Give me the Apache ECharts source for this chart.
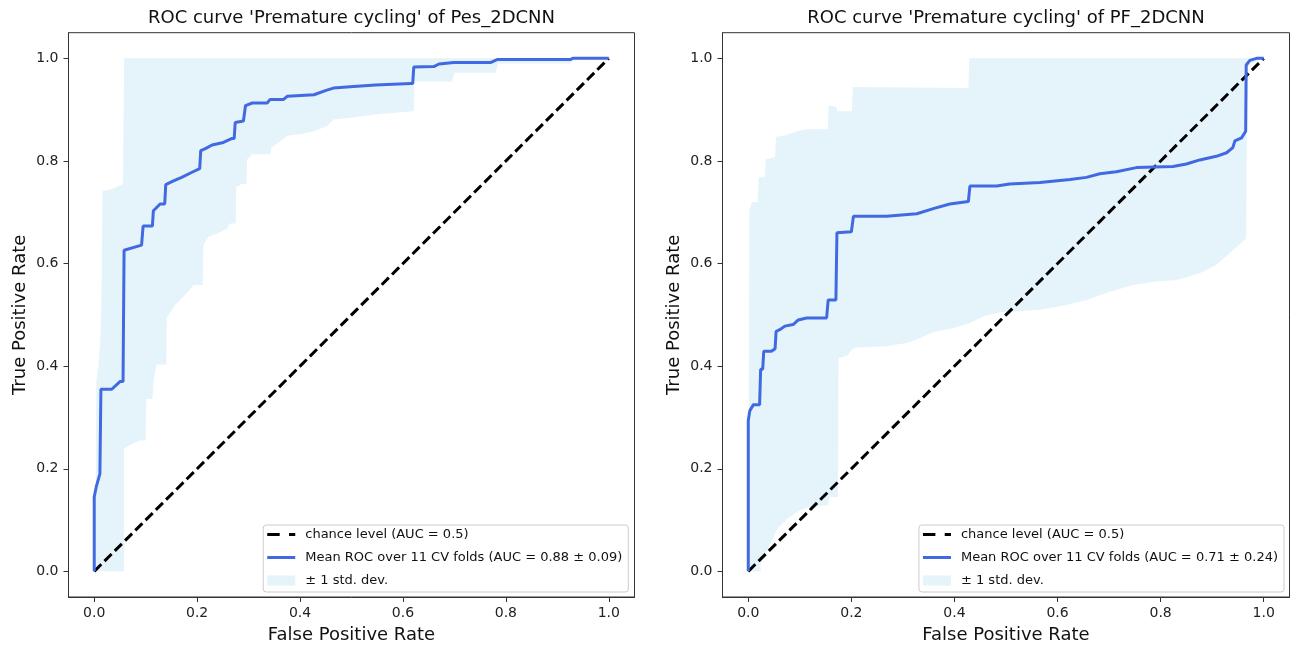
<!DOCTYPE html>
<html>
<head>
<meta charset="utf-8">
<title>ROC curves</title>
<script src="https://cdn.jsdelivr.net/npm/echarts@6/dist/echarts.min.js"></script>
<style>
  html, body { margin: 0; padding: 0; background: #fff; }
  #main { width: 1290px; height: 649px; }
</style>
</head>
<body>
<div id="main"></div>
<script>
// tick labels on both axes
var tickValues = [0, 0.2, 0.4, 0.6, 0.8, 1.0];

var titles = [
  "ROC curve 'Premature cycling' of Pes_2DCNN",
  "ROC curve 'Premature cycling' of PF_2DCNN"
];
var chanceName = 'chance level (AUC = 0.5)';
var meanNames = [
  'Mean ROC over 11 CV folds (AUC = 0.88 ± 0.09)',
  'Mean ROC over 11 CV folds (AUC = 0.71 ± 0.24)'
];
var bandName = '± 1 std. dev.';

var chanceLine = [[0, 0], [1, 1]];

// Pes_2DCNN : mean ROC [fpr, tpr]
var pesMean = [
  [0, 0], [0, 0.145], [0.004, 0.165], [0.011, 0.19], [0.013, 0.355], [0.034, 0.355],
  [0.05, 0.37], [0.056, 0.37], [0.058, 0.626], [0.092, 0.636], [0.095, 0.673],
  [0.113, 0.673], [0.115, 0.703], [0.128, 0.716], [0.137, 0.716], [0.139, 0.754],
  [0.154, 0.761], [0.17, 0.768], [0.19, 0.778], [0.205, 0.785], [0.207, 0.82],
  [0.216, 0.824], [0.229, 0.831], [0.251, 0.836], [0.268, 0.844], [0.272, 0.844],
  [0.274, 0.875], [0.29, 0.878], [0.292, 0.878], [0.294, 0.908], [0.307, 0.913],
  [0.336, 0.913], [0.342, 0.92], [0.368, 0.92], [0.375, 0.926], [0.427, 0.929],
  [0.452, 0.938], [0.465, 0.942], [0.504, 0.945], [0.547, 0.948], [0.615, 0.951],
  [0.619, 0.951], [0.621, 0.983], [0.66, 0.984], [0.67, 0.989], [0.699, 0.992],
  [0.771, 0.992], [0.784, 0.998], [0.926, 0.998], [0.93, 1.0], [1.0, 1.0]
];
// Pes_2DCNN : mean + std (clipped at 1)
var pesUpper = [
  [0, 0], [0, 0.15], [0.003, 0.17], [0.004, 0.37], [0.008, 0.4], [0.012, 0.45],
  [0.014, 0.53], [0.016, 0.742], [0.031, 0.744], [0.056, 0.755], [0.058, 1.0], [1.0, 1.0]
];
// Pes_2DCNN : mean - std
var pesLower = [
  [0, 0], [0.058, 0], [0.058, 0.239], [0.073, 0.248], [0.089, 0.255], [0.1, 0.255],
  [0.101, 0.336], [0.113, 0.336], [0.115, 0.368], [0.121, 0.403], [0.14, 0.403],
  [0.141, 0.494], [0.157, 0.519], [0.177, 0.539], [0.193, 0.558], [0.211, 0.558],
  [0.212, 0.636], [0.222, 0.652], [0.238, 0.658], [0.258, 0.668], [0.264, 0.678],
  [0.275, 0.678], [0.276, 0.749], [0.287, 0.755], [0.296, 0.755], [0.297, 0.803],
  [0.307, 0.813], [0.342, 0.813], [0.345, 0.826], [0.375, 0.849], [0.401, 0.852],
  [0.427, 0.858], [0.453, 0.868], [0.465, 0.881], [0.498, 0.884], [0.55, 0.891],
  [0.618, 0.897], [0.621, 0.897], [0.622, 0.955], [0.696, 0.955], [0.7, 0.972],
  [0.78, 0.972], [0.785, 0.99], [0.926, 0.99], [0.93, 1.0], [1.0, 1.0]
];

// PF_2DCNN : mean ROC
var pfMean = [
  [0, 0], [0, 0.294], [0.003, 0.313], [0.01, 0.325], [0.022, 0.325], [0.024, 0.394],
  [0.028, 0.394], [0.03, 0.429], [0.045, 0.429], [0.052, 0.434], [0.054, 0.468],
  [0.061, 0.471], [0.071, 0.478], [0.087, 0.481], [0.097, 0.49], [0.113, 0.494],
  [0.152, 0.494], [0.155, 0.529], [0.17, 0.529], [0.172, 0.66], [0.2, 0.662],
  [0.204, 0.692], [0.268, 0.692], [0.327, 0.697], [0.359, 0.707], [0.391, 0.716],
  [0.427, 0.721], [0.43, 0.751], [0.482, 0.751], [0.507, 0.755], [0.566, 0.758],
  [0.624, 0.764], [0.656, 0.768], [0.682, 0.775], [0.714, 0.779], [0.753, 0.787],
  [0.824, 0.789], [0.85, 0.794], [0.876, 0.802], [0.908, 0.809], [0.928, 0.816],
  [0.94, 0.826], [0.944, 0.839], [0.957, 0.845], [0.965, 0.858], [0.966, 0.987],
  [0.973, 0.996], [0.986, 1.0], [1.0, 1.0]
];
var pfUpper = [
  [0, 0], [0.002, 0.703], [0.007, 0.72], [0.018, 0.72], [0.02, 0.768], [0.032, 0.768],
  [0.034, 0.803], [0.052, 0.807], [0.054, 0.847], [0.074, 0.85], [0.094, 0.858],
  [0.113, 0.862], [0.154, 0.862], [0.156, 0.908], [0.171, 0.905], [0.173, 0.897],
  [0.201, 0.897], [0.203, 0.944], [0.427, 0.942], [0.429, 1.0], [1.0, 1.0]
];
var pfLower = [
  [0, 0], [0.024, 0], [0.024, 0.016], [0.032, 0.029], [0.055, 0.081], [0.074, 0.101],
  [0.1, 0.119], [0.12, 0.126], [0.155, 0.129], [0.158, 0.145], [0.174, 0.145],
  [0.175, 0.416], [0.191, 0.42], [0.205, 0.436], [0.268, 0.439], [0.307, 0.445],
  [0.327, 0.452], [0.359, 0.466], [0.397, 0.474], [0.43, 0.484], [0.456, 0.497],
  [0.488, 0.505], [0.566, 0.51], [0.617, 0.519], [0.656, 0.529], [0.701, 0.545],
  [0.747, 0.558], [0.792, 0.565], [0.831, 0.568], [0.876, 0.581], [0.908, 0.597],
  [0.94, 0.626], [0.966, 0.649], [0.968, 0.98], [0.975, 0.99], [1.0, 1.0]
];

var FONT = 'DejaVu Sans';
var BLUE = '#4169E1';
var BAND = 'rgba(135,206,235,0.22)';
var SPINE = '#333';

// plot boxes (x: -0.05..1.05, y: -0.05..1.05)
var grids = [
  { left: 68.5, top: 32.7, width: 566, height: 568 },
  { left: 722.5, top: 32.7, width: 567, height: 568 }
];

function xAxisOf(i) {
  return {
    type: 'value', gridIndex: i, min: -0.05, max: 1.05,
    name: 'False Positive Rate', nameLocation: 'middle', nameGap: 29,
    nameTextStyle: { fontFamily: FONT, fontSize: 18, color: '#111' },
    splitLine: { show: false },
    axisLine: { show: true, onZero: false, lineStyle: { color: SPINE, width: 1 } },
    axisTick: { show: true, length: 5, customValues: tickValues, lineStyle: { color: SPINE } },
    axisLabel: {
      margin: 9, fontFamily: FONT, fontSize: 14, color: '#222',
      customValues: tickValues,
      formatter: function (v) { return v.toFixed(1); }
    }
  };
}
function yAxisOf(i) {
  return {
    type: 'value', gridIndex: i, min: -0.05, max: 1.05,
    name: 'True Positive Rate', nameLocation: 'middle', nameGap: 39,
    nameTextStyle: { fontFamily: FONT, fontSize: 18, color: '#111' },
    splitLine: { show: false },
    axisLine: { show: true, onZero: false, lineStyle: { color: SPINE, width: 1 } },
    axisTick: { show: true, length: 5, customValues: tickValues, lineStyle: { color: SPINE } },
    axisLabel: {
      margin: 10, fontFamily: FONT, fontSize: 14, color: '#222',
      customValues: tickValues,
      formatter: function (v) { return v.toFixed(1); }
    }
  };
}

function bandSeries(i, upper, lower) {
  return {
    name: bandName, type: 'custom', xAxisIndex: i, yAxisIndex: i, z: 1,
    itemStyle: { color: BAND },
    data: [[0, 0]],
    renderItem: function (params, api) {
      var pts = upper.map(function (p) { return api.coord(p); });
      var back = lower.slice().reverse().map(function (p) { return api.coord(p); });
      return {
        type: 'polygon',
        shape: { points: pts.concat(back) },
        style: { fill: BAND }
      };
    }
  };
}
function chanceSeries(i) {
  return {
    name: chanceName, type: 'line', xAxisIndex: i, yAxisIndex: i, z: 3,
    data: chanceLine, showSymbol: false, symbol: 'none', silent: true,
    itemStyle: { color: '#000' },
    lineStyle: { color: '#000', width: 3, type: [10, 4.5] }
  };
}
function meanSeries(i, name, data) {
  return {
    name: name, type: 'line', xAxisIndex: i, yAxisIndex: i, z: 4,
    data: data, showSymbol: false, symbol: 'none', silent: true,
    itemStyle: { color: BLUE },
    lineStyle: { color: BLUE, width: 3 }
  };
}

var dashIcon = 'path://M1,0h12v3h-12z M22,0h6v3h-6z';
var lineIcon = 'path://M0,0h28v3h-28z';
var rectIcon = 'path://M0,0h28v10h-28z';

function legendOf(i, right) {
  return {
    orient: 'vertical', right: right, top: 525,
    itemWidth: 28, itemHeight: 14, itemGap: 10,
    padding: [3, 6, 5, 4],
    backgroundColor: 'rgba(255,255,255,0.8)',
    borderColor: '#cccccc', borderWidth: 1, borderRadius: 3,
    selectedMode: false,
    itemStyle: { borderWidth: 0 },
    textStyle: { fontFamily: FONT, fontSize: 13, color: '#111', padding: [0, 0, 0, 5] },
    data: [
      { name: chanceName, icon: dashIcon },
      { name: meanNames[i], icon: lineIcon },
      { name: bandName, icon: rectIcon }
    ]
  };
}

var option = {
  animation: false,
  backgroundColor: '#fff',
  title: [
    { text: titles[0], left: 351.5, top: 9, padding: 0, textAlign: 'center',
      textStyle: { fontFamily: FONT, fontSize: 18, fontWeight: 'normal', color: '#111' } },
    { text: titles[1], left: 1006, top: 9, padding: 0, textAlign: 'center',
      textStyle: { fontFamily: FONT, fontSize: 18, fontWeight: 'normal', color: '#111' } }
  ],
  grid: grids.map(function (g) {
    return Object.assign({ show: true, borderColor: SPINE, borderWidth: 1, backgroundColor: 'transparent' }, g);
  }),
  xAxis: [xAxisOf(0), xAxisOf(1)],
  yAxis: [yAxisOf(0), yAxisOf(1)],
  legend: [legendOf(0, 661.7), legendOf(1, 6)],
  series: [
    bandSeries(0, pesUpper, pesLower),
    chanceSeries(0),
    meanSeries(0, meanNames[0], pesMean),
    bandSeries(1, pfUpper, pfLower),
    chanceSeries(1),
    meanSeries(1, meanNames[1], pfMean)
  ]
};

var myChart = echarts.init(document.getElementById('main'));
myChart.setOption(option);
</script>
</body>
</html>
